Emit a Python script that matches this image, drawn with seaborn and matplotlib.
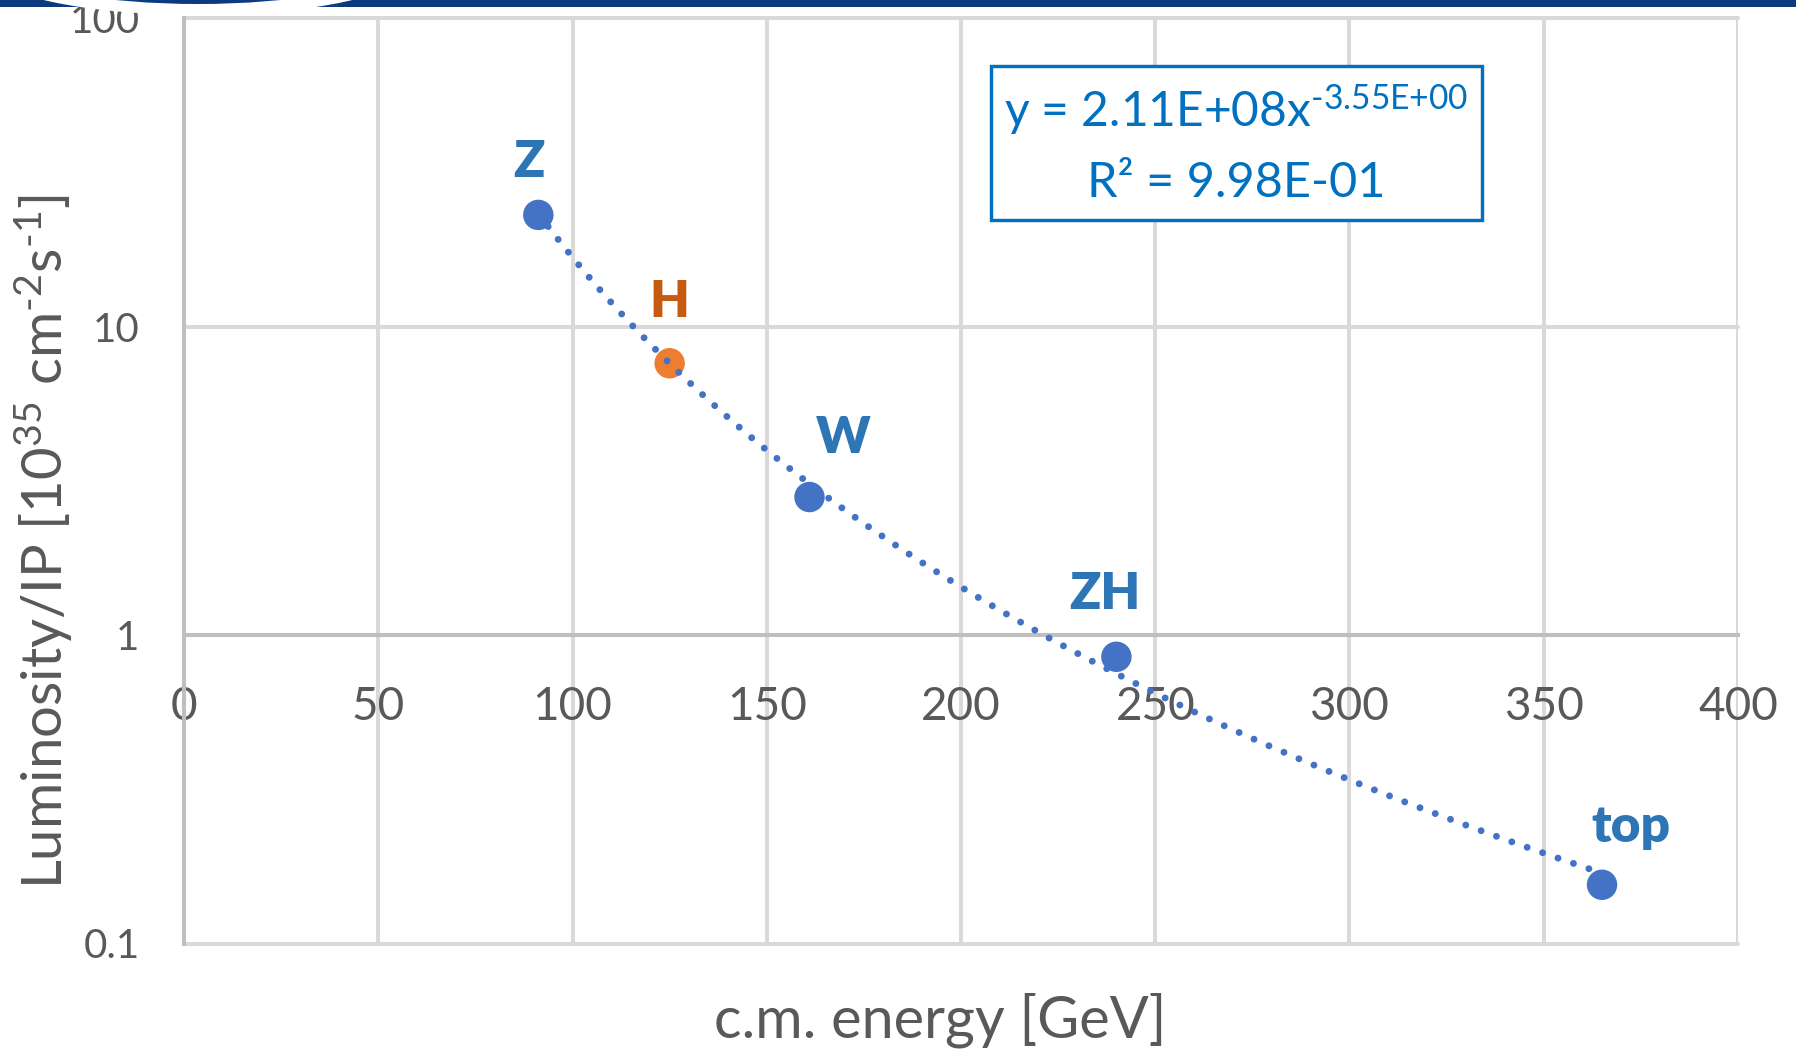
import numpy as np
import pandas as pd
import matplotlib
matplotlib.use("Agg")
import matplotlib.pyplot as plt
from matplotlib.patches import Ellipse, Rectangle
from matplotlib.ticker import NullLocator
import seaborn as sns

# Operating points: centre-of-mass energy and luminosity per interaction point
run_labels = ["Z", "H", "W", "ZH", "top"]
energy_gev = [91.2, 125, 161, 240, 365]
lumi_per_ip = [23.0, 7.6, 2.8, 0.85, 0.155]
point_group = ["run", "higgs", "run", "run", "run"]

# Power-law trendline  y = a * x^b  and its goodness of fit
fit_a = 2.11e8
fit_b = -3.55
fit_r2 = 0.998

x_ticks = [0, 50, 100, 150, 200, 250, 300, 350, 400]
y_ticks = [0.1, 1, 10, 100]
y_tick_labels = ["0.1", "1", "10", "100"]

# label placement (offset from the marker, in pixels)
label_dx = [-9.5, 0, 34, -11.5, 29]
label_dy = [38, 46, 44, 48, 43]

BLUE = "#4472C4"
ORANGE = "#ED7D31"
LABEL_BLUE = "#2E75B6"
LABEL_ORANGE = "#C55A11"
EQ_BLUE = "#0070C0"
TEXT_GREY = "#595959"
GRID = "#D9D9D9"
AXIS = "#BFBFBF"
NAVY = "#0B3A7E"

sns.set_theme(style="white")
plt.rcParams["font.family"] = ["Lato", "DejaVu Sans"]
plt.rcParams["mathtext.fontset"] = "custom"
plt.rcParams["mathtext.rm"] = "Lato"
plt.rcParams["mathtext.default"] = "regular"

W, H = 1796, 1053
fig = plt.figure(figsize=(W / 100, H / 100), dpi=100)
fig.patch.set_facecolor("white")

ax_l, ax_r, ax_t, ax_b = 184, 1738, 18, 943.5
ax = fig.add_axes([ax_l / W, 1 - ax_b / H, (ax_r - ax_l) / W, (ax_b - ax_t) / H])
ax.set_facecolor("white")

points = pd.DataFrame({
    "energy": energy_gev,
    "lumi": lumi_per_ip,
    "group": point_group,
    "label": run_labels,
})

# trendline evaluated from the fitted coefficients over the measured range
fit_x = np.linspace(min(energy_gev), max(energy_gev), 400)
trend = pd.DataFrame({"energy": fit_x, "lumi": fit_a * fit_x ** fit_b})

sns.scatterplot(data=points, x="energy", y="lumi", hue="group",
                palette={"run": BLUE, "higgs": ORANGE}, s=480, linewidth=0,
                legend=False, ax=ax, zorder=3)
sns.lineplot(data=trend, x="energy", y="lumi", ax=ax, color=BLUE, lw=5.0,
             linestyle=(0, (0.001, 2.35)), dash_capstyle="round", zorder=4)

ax.set_yscale("log")
ax.set_xlim(0, 400)
ax.set_ylim(0.1, 100)
ax.set_xticks(x_ticks)
ax.set_yticks(y_ticks, y_tick_labels)
ax.yaxis.set_minor_locator(NullLocator())
ax.xaxis.set_minor_locator(NullLocator())

ax.grid(True, which="major", color=GRID, lw=2.9, zorder=0)
for gl in ax.get_xgridlines() + ax.get_ygridlines():
    gl.set_clip_on(False)
ax.set_axisbelow(True)

for side in ("top", "right"):
    ax.spines[side].set_visible(False)
ax.spines["left"].set_color(AXIS)
ax.spines["left"].set_linewidth(2.9)
ax.spines["bottom"].set_position(("data", 1))
ax.spines["bottom"].set_color(AXIS)
ax.spines["bottom"].set_linewidth(2.9)

ax.tick_params(axis="x", length=0, pad=37, labelsize=33, labelcolor=TEXT_GREY)
ax.tick_params(axis="y", length=0, pad=32, labelsize=29, labelcolor=TEXT_GREY)


def to_axes(px, py):
    return (px - ax_l) / (ax_r - ax_l), (ax_b - py) / (ax_b - ax_t)


ax.set_xlabel("c.m. energy [GeV]", fontsize=41.5, color=TEXT_GREY)
ax.xaxis.label.set_verticalalignment("baseline")
ax.xaxis.set_label_coords(*to_axes(940, 1037))

ax.set_ylabel(r"Luminosity/IP [10$^{35}$ cm$^{\text{-2}}$s$^{\text{-1}}$]",
              fontsize=40.5, color=TEXT_GREY)
ax.yaxis.label.set_verticalalignment("baseline")
ax.yaxis.set_label_coords(*to_axes(63, 541.5))

for (_, row), dx, dy in zip(points.iterrows(), label_dx, label_dy):
    ax.annotate(row["label"], xy=(row["energy"], row["lumi"]),
                xytext=(dx, dy), textcoords="offset pixels",
                ha="center", va="baseline", fontsize=37, fontweight="heavy",
                color=LABEL_ORANGE if row["group"] == "higgs" else LABEL_BLUE)

# equation box for the trendline
bx0, by0 = to_axes(991, 220)
bx1, by1 = to_axes(1482, 65.5)
ax.add_patch(Rectangle((bx0, by0), bx1 - bx0, by1 - by0, transform=ax.transAxes,
                       facecolor="white", edgecolor=EQ_BLUE, lw=2.45,
                       clip_on=False, zorder=6))
eq_line = f"y = {fit_a:.2E}x" + r"$^{\text{" + f"{fit_b:.2E}" + r"}}$"
r2_line = f"R² = {fit_r2:.2E}"
ax.text(*to_axes(1236, 126.4), eq_line, transform=ax.transAxes, ha="center",
        va="baseline", fontsize=34.5, color=EQ_BLUE, zorder=7)
ax.text(*to_axes(1236.5, 197.4), r2_line, transform=ax.transAxes, ha="center",
        va="baseline", fontsize=35, color=EQ_BLUE, zorder=7)

# header strip with badge across the top edge
overlay = fig.add_axes([0, 0, 1, 1], zorder=10)
overlay.set_xlim(0, W)
overlay.set_ylim(H, 0)
overlay.axis("off")
overlay.patch.set_alpha(0)
overlay.add_patch(Rectangle((0, 0), W, 7, facecolor=NAVY, edgecolor="none"))
overlay.add_patch(Ellipse((198, -30), 414, 90, facecolor="white", edgecolor="none"))
overlay.add_patch(Ellipse((198, -30), 348, 68, facecolor=NAVY, edgecolor="none"))

fig.savefig("out.png", dpi=100, facecolor="white")
